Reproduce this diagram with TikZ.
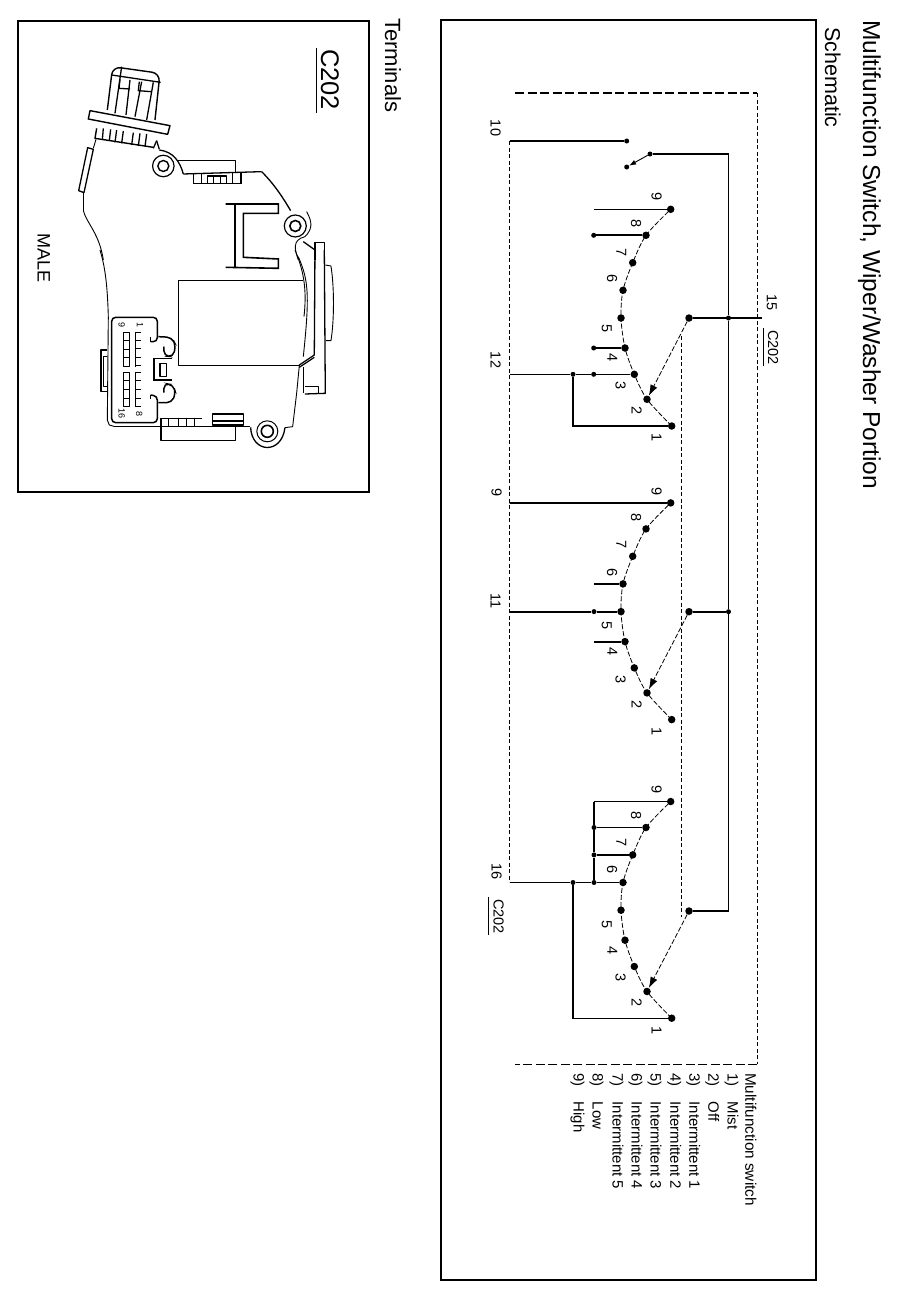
\documentclass[tikz,border=0pt]{standalone}
\usepackage{fontspec}
\setmainfont{Liberation Sans}
\usetikzlibrary{arrows.meta}
\tikzset{
  x=1pt,y=-1pt,
  wire/.style={line width=1.25pt,black},
  thickwire/.style={line width=1.8pt,black},
  inner/.style={line width=.8pt,dash pattern=on 4pt off 2.5pt},
  arcdash/.style={line width=.8pt,dash pattern=on 5pt off 2pt},
  dotn/.style={circle,fill=black,inner sep=0pt,minimum size=7.5pt},
  smalldot/.style={circle,fill=black,inner sep=0pt,minimum size=5pt},
  lbl/.style={rotate=-90,inner sep=0pt,font=\fontsize{14.5}{15}\selectfont},
  leg/.style={rotate=-90,inner sep=0pt,anchor=base west,font=\fontsize{15}{15}\selectfont},
  big/.style={rotate=-90,inner sep=0pt,anchor=base west},
  frame/.style={line width=1.6pt},
  sketch/.style={line width=.9pt,line join=round},
  sketchb/.style={line width=1.3pt,line join=round},
  zoomA/.style={shift={(20,20)},x=.3333pt,y=-.3333pt},
  zoomB/.style={shift={(20,250)},x=.3333pt,y=-.3333pt},
  swarrow/.style={arcdash,-{Latex[length=11pt,width=7.5pt]}},
}
\begin{document}
\begin{tikzpicture}
\useasboundingbox (0,0) rectangle (906,1299);
% titles
\node[big,font=\fontsize{24.5}{26}\selectfont] (title) at (863,20) {Multifunction Switch, Wiper/Washer Portion};
\node[big,font=\fontsize{21.5}{23}\selectfont] (schem) at (825,27) {Schematic};
\node[big,font=\fontsize{22}{23}\selectfont] (termt) at (385,18) {Terminals};
% frames
\draw[frame] (441,20) rectangle (816,1280);
\draw[line width=2.2pt] (18,21) rectangle (369,492);
% outer dashed
\coordinate (otl) at (515,93); \coordinate (otr) at (757,93);
\coordinate (obr) at (757,1064); \coordinate (obl) at (515,1064);
\draw[line width=1.6pt,dash pattern=on 9pt off 3.5pt] (otl) -- (otr);
\draw[inner] (otr) -- (obr);
\draw[line width=.9pt,dash pattern=on 9pt off 3.5pt] (obr) -- (obl);
% inner dashed
\coordinate (il1) at (509.5,141); \coordinate (il2) at (509.5,882);
\draw[inner] (il1) -- (il2);
\coordinate (ir1) at (681,336); \coordinate (ir2) at (681,917);
\draw[inner] (ir1) -- (ir2);
% switch positions
\foreach \g/\o in {a/0,b/293.6,c/592.2}{
  \foreach \n/\x/\y in {9/670.7/209.3,8/646/235.3,7/632.7/262.7,6/623/290.3,5/621/318,4/625/348,3/634.3/374.3,2/647/399.3,1/671.7/426}{
    \node[dotn] (\g\n) at (\x,\y+\o) {};
  }
  \draw[arcdash] plot[smooth] coordinates {(\g1) (\g2) (\g3) (\g4) (\g5) (\g6) (\g7) (\g8) (\g9)};
}
% commons
\node[dotn] (ca) at (689,318) {};
\node[dotn] (cb) at (689,611.7) {};
\node[dotn] (cc) at (689,911) {};
\draw[swarrow] (ca) -- (a2);
\draw[swarrow] (cb) -- (b2);
\draw[swarrow] (cc) -- (c2);
% feed
\coordinate (t15) at (762,318);
\node[smalldot] (ja) at (728.5,318) {};
\node[smalldot] (jb) at (728.5,611.7) {};
\coordinate (jc) at (728.5,911);
\coordinate (jt) at (728.5,154);
\node[smalldot] (ws) at (650,154) {};
\node[smalldot] (we) at (626.7,167) {};
\node[smalldot] (wt) at (626.7,141) {};
\coordinate (t10) at (509.5,141);
\draw[wire] (ws) -- (jt) -- (ja) -- (jb) -- (jc) -- (cc);
\draw[thickwire] (ca) -- (t15);
\draw[thickwire] (cb) -- (jb);
\draw[wire] (t10) -- (wt);
\draw[line width=.9pt,-{Latex[length=7pt,width=5pt]}] (ws) -- (we);
% group a
\coordinate (a9e) at (594,209.3);
\draw[wire] (a9e) -- (a9);
\node[smalldot] (a8e) at (593.7,235.3) {};
\draw[thickwire] (a8e) -- (a8);
\node[smalldot] (a4e) at (593.7,348) {};
\draw[thickwire] (a4e) -- (a4);
\coordinate (t12) at (509.5,374.3);
\node[smalldot] (a3j) at (573,374.3) {};
\node[smalldot] (a3k) at (593.7,374.3) {};
\coordinate (a1c) at (573,426);
\draw[wire] (t12) -- (a3j) -- (a3k) -- (a3);
\draw[wire] (a3j) -- (a1c) -- (a1);
% group b
\coordinate (t9) at (509.5,503);
\draw[thickwire] (t9) -- (b9);
\coordinate (b6e) at (594,583.9);
\draw[thickwire] (b6e) -- (b6);
\coordinate (t11) at (509.5,611.6);
\node[smalldot] (b5j) at (594,611.6) {};
\draw[thickwire] (t11) -- (b5j) -- (b5);
\coordinate (b4e) at (594,641.6);
\draw[thickwire] (b4e) -- (b4);
% group c
\coordinate (c9e) at (594,801.5);
\node[smalldot] (c8e) at (594,827.5) {};
\node[smalldot] (c7e) at (594,854.9) {};
\coordinate (t16) at (509.5,882.5);
\node[smalldot] (c6j) at (573,882.5) {};
\node[smalldot] (c6k) at (594,882.5) {};
\coordinate (c1c) at (573,1018.2);
\draw[thickwire] (c9e) -- (c9);
\draw[thickwire] (c8e) -- (c8);
\draw[wire] (c7e) -- (c7);
\draw[wire] (c9e) -- (c8e) -- (c7e) -- (c6k);
\draw[thickwire] (t16) -- (c6j) -- (c6k) -- (c6);
\draw[wire] (c6j) -- (c1c) -- (c1);
% terminal labels
\node[lbl] (l10) at (495.7,128) {10};
\node[lbl] (l12) at (495.7,360) {12};
\node[lbl] (l9) at (496.5,492.7) {9};
\node[lbl] (l11) at (495.7,600.7) {11};
\node[lbl] (l16) at (496.5,871.7) {16};
\node[lbl] (lc1) at (498.5,916.7) {C202};
\coordinate (u1a) at (488.3,897); \coordinate (u1b) at (488.3,935);
\draw[line width=.9pt] (u1a) -- (u1b);
\node[lbl] (l15) at (771.7,302.7) {15};
\node[lbl] (lc2) at (773,347.7) {C202};
\coordinate (u2a) at (763.3,328); \coordinate (u2b) at (763.3,366);
\draw[line width=.9pt] (u2a) -- (u2b);
% position digits
\foreach \t/\x/\y in {9/656.7/197,8/636/223.7,7/621.3/252.3,6/612/279,5/606.7/329,4/612.3/357.7,3/620.7/385.7,2/636.7/411,1/656.7/437.7,
 9/656.7/491.7,8/636/517.3,7/621.3/545,6/612/572.3,5/606.7/625.7,4/612.3/651.7,3/620.7/680,2/636.7/704.3,1/656.7/731.7,
 9/656.7/790,8/636/816,7/621.3/842.7,6/612/870,5/606.7/925,4/612.3/951,3/620.7/977.7,2/636.7/1002.7,1/656.7/1030.7}{
  \node[lbl] at (\x,\y) {\t};
}
% legend
\node[leg,font=\fontsize{15.3}{15}\selectfont] (lg0) at (745.3,1073) {Multifunction switch};
\foreach \k/\x/\t in {1/727.6/Mist,2/708.3/Off,3/689.3/Intermittent 1,4/670.3/Intermittent 2,5/650.6/Intermittent 3,6/631.6/Intermittent 4,7/612.6/Intermittent 5,8/592.6/Low,9/573.6/High}{
  \node[leg] (lgn\k) at (\x,1073) {\k)};
  \node[leg] (lgt\k) at (\x,1101.5) {\t};
}
% --- connector sketch, part A
\begin{scope}[zoomA]
\node[rotate=-90,inner sep=0pt,font=\fontsize{25.5}{26}\selectfont] (c202) at (930,179) {C202};
\coordinate (u3a) at (888,85); \coordinate (u3b) at (888,278);
\draw[line width=.9pt] (u3a) -- (u3b);
\node[big,font=\fontsize{18}{18}\selectfont] (male) at (53,640) {MALE};
\draw[line width=1.4pt,rounded corners=8pt] (262,270) -- (278,140) -- (420,160) -- (405,300);
\draw[sketchb] (275,165) -- (422,187);
\draw[sketchb] (305,140) -- (285,280);
\draw[sketchb] (330,180) -- (318,285);
\draw[sketchb] (365,185) -- (345,290);
\draw[sketchb] (400,187) -- (380,300);
\draw[sketchb] (300,178) -- (297,205) -- (330,207);
\draw[sketchb] (358,185) -- (355,212) -- (393,215);
\draw[line width=1.4pt,line join=round] (210,272) -- (450,317) -- (443,343) -- (205,297) -- cycle;
\draw[line width=1.4pt,line join=round] (230,325) -- (225,355) -- (400,382);
\foreach \p/\q/\r/\s in {250/325/247/360,272/328/268/362,290/330/285/367,310/333/305/370,340/338/335/375,360/340/355/378,380/342/375/380,410/362/400/385}{
  \draw[sketchb] (\p,\q) -- (\r,\s);
}
\draw[sketchb] (410,362) -- (418,388);
\draw[sketchb] (203,383) -- (220,388) -- (192,518) -- (176,512) -- cycle;
\draw[sketch] (228,358) -- (220,385);
\draw[sketch] (190,520) -- (190,572);
\draw[sketch] (190,572) .. controls (200,610) and (238,640) .. (250,720);
\draw[sketchb] (418,390) .. controls (460,395) and (480,425) .. (490,462);
\draw[sketchb] (490,462) -- (725,455);
\draw[sketchb] (725,455) .. controls (765,495) and (790,535) .. (812,572);
\draw[sketch] (475,422) -- (645,422) -- (645,455);
\draw[line width=1.6pt] (520,462) -- (520,490) -- (663,490) -- (663,458);
\draw[sketch] (545,462) -- (545,488);
\draw[sketchb] (562,488) -- (562,468) -- (620,468) -- (620,488);
\draw[sketch] (580,470) -- (580,488);
\draw[sketch] (600,470) -- (600,488);
\draw[sketchb] (638,460) -- (638,488);
\node[draw,circle,line width=1.2pt,minimum size=21.5pt,inner sep=0pt] (ring1) at (430,438) {};
\node[draw,circle,line width=1.4pt,minimum size=11pt,inner sep=0pt] (ring1i) at (430,438) {};
\node[draw,circle,line width=1.2pt,minimum size=22pt,inner sep=0pt] (ring2) at (826,618) {};
\node[draw,circle,line width=1.6pt,minimum size=11pt,inner sep=0pt] (ring2i) at (826,618) {};
\draw[line width=1.6pt] (617,552) -- (775,552) -- (775,580) -- (670,580) -- (670,712) -- (775,717) -- (775,745) -- (617,742);
\draw[line width=1.6pt] (645,552) -- (645,745);
\draw[sketchb] (885,667) -- (913,667) -- (913,720);
\draw[sketchb] (885,667) -- (885,720);
\draw[sketchb] (850,665) -- (885,690);
\draw[sketch] (860,575) .. controls (880,610) and (875,630) .. (855,650) .. controls (815,660) and (825,690) .. (835,720);
\end{scope}
% --- connector sketch, part B
\begin{scope}[zoomB]
\draw[sketch] (240,0) .. controls (255,50) and (262,100) .. (265,200);
\draw[sketch] (835,20) .. controls (865,90) and (870,130) .. (850,320);
\draw[sketch] (825,0) .. controls (855,70) and (860,130) .. (852,200);
\draw[sketch] (838,347) -- (830,430) -- (818,530) -- (795,533);
\draw[sketchb] (885,0) -- (883,315) -- (838,345);
\draw[sketchb] (883,322) -- (838,352);
\draw[sketchb] (913,0) -- (916,430) -- (855,432);
\draw[sketch] (855,410) -- (895,410) -- (895,430);
\draw[sketch] (850,352) -- (850,430);
\draw[sketch] (916,45) -- (933,48) .. controls (943,110) and (943,210) .. (933,272) -- (918,272);
\draw[sketchb] (850,92) -- (475,92) -- (475,347) -- (840,347);
\node[draw,circle,line width=1.6pt,minimum size=12pt,inner sep=0pt] (ring3i) at (742,544) {};
\node[draw,circle,line width=1pt,minimum size=21pt,inner sep=0pt] (ring3m) at (742,544) {};
\draw[sketchb] (692,532) .. controls (695,610) and (785,615) .. (795,533);
\draw[sketchb] (690,530) -- (285,530);
\draw[sketch] (285,530) -- (268,525) -- (262,510) -- (265,200);
% connector
\draw[line width=1.5pt,rounded corners=4pt] (392,275) -- (412,275) -- (412,202) -- (275,202) -- (275,518) -- (412,518) -- (412,438) -- (392,435);
\draw[sketchb] (392,275) -- (392,262);
\draw[sketchb] (392,435) -- (392,448);
\draw[line width=1.5pt,rounded corners=5pt] (415,260) -- (455,262) -- (467,285) -- (460,320) -- (432,318) -- (432,290);
\draw[line width=1.5pt,rounded corners=5pt] (415,458) -- (455,458) -- (467,430) -- (460,405) -- (432,400) -- (432,428);
\draw[line width=1.5pt] (455,325) -- (402,325) -- (402,390) -- (455,390);
\draw[sketchb] (420,340) -- (440,340) -- (440,380) -- (420,380) -- cycle;
\draw[sketchb] (262,300) -- (243,300) -- (243,425) -- (262,425);
\draw[sketch] (262,318) -- (250,318) -- (250,410) -- (262,410);
\draw[sketch] (310,247) rectangle (328,350);
\draw[sketch] (310,367) rectangle (328,470);
\draw[sketch] (310,272) -- (328,272) (310,297) -- (328,297) (310,322) -- (328,322);
\draw[line width=1.6pt] (310,392) -- (328,392);
\draw[sketch] (310,418) -- (328,418) (310,445) -- (328,445);
\draw[sketch] (345,247) -- (345,350) (345,367) -- (345,470);
\draw[line width=1.6pt] (345,247) -- (362,247) (345,392) -- (362,392) (345,418) -- (362,418) (345,445) -- (362,445) (345,470) -- (362,470);
\draw[sketch] (345,270) -- (362,270) (345,296) -- (362,296) (345,322) -- (362,322) (345,347) -- (362,347) (345,367) -- (362,367);
\node[rotate=-90,inner sep=0pt,font=\fontsize{9}{9}\selectfont] (pin1) at (360,225) {1};
\node[rotate=-90,inner sep=0pt,font=\fontsize{9}{9}\selectfont] (pin9) at (305,225) {9};
\node[rotate=-90,inner sep=0pt,font=\fontsize{9}{9}\selectfont] (pin8) at (358,493) {8};
\node[rotate=-90,inner sep=0pt,font=\fontsize{9}{9}\selectfont] (pin16) at (305,490) {16};
% lower parts
\draw[sketchb] (420,505) -- (545,505);
\draw[sketchb] (423,505) -- (423,572) -- (647,572) -- (647,530);
\foreach \v in {445,475,498,522}{\draw[sketch] (\v,505) -- (\v,530);}
\draw[sketchb] (577,492) rectangle (670,525);
\draw[line width=1.6pt] (577,513) -- (670,513);
\end{scope}
\end{tikzpicture}
\end{document}
